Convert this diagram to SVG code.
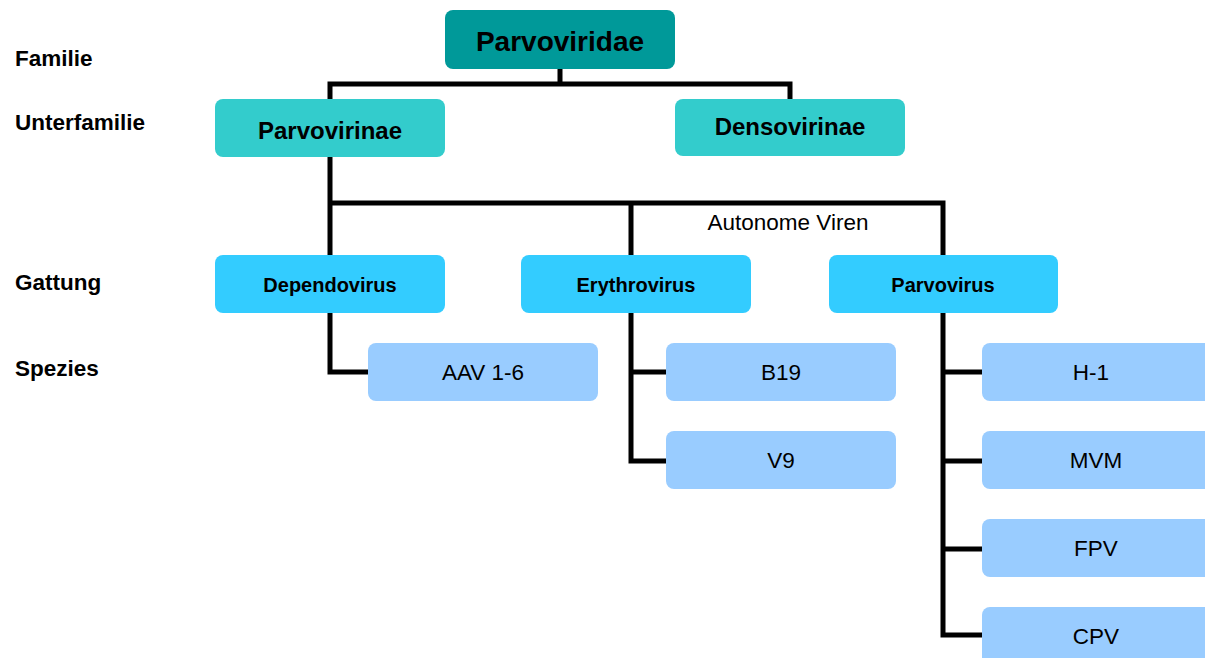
<svg xmlns="http://www.w3.org/2000/svg" width="1205" height="658" viewBox="0 0 1205 658">
<style>
text{font-family:"Liberation Sans",Arial,sans-serif;fill:#000}
.lbl{font-size:22.5px;font-weight:bold}
.fam{fill:#009999}
.sub{fill:#33CCCC}
.gen{fill:#33CCFF}
.spe{fill:#99CCFF}
.t1{font-size:28px;font-weight:bold;text-anchor:middle}
.t2{font-size:24px;font-weight:bold;text-anchor:middle}
.t3{font-size:20px;font-weight:bold;text-anchor:middle}
.t4{font-size:22.5px;text-anchor:middle}
.c{fill:none;stroke:#000;stroke-width:5;stroke-linejoin:miter;stroke-linecap:butt}
</style>
<rect width="1205" height="658" fill="#fff"/>
<g id="levels">
<text class="lbl" x="15" y="66">Familie</text>
<text class="lbl" x="15" y="130">Unterfamilie</text>
<text class="lbl" x="15" y="290">Gattung</text>
<text class="lbl" x="15" y="376">Spezies</text>
</g>
<g id="connectors">
<path class="c" d="M560 69V84M330 99V84H790V99"/>
<path class="c" d="M330 157V255M330 203H943V255M631 203V255"/>
<path class="c" d="M330 313V372H368"/>
<path class="c" d="M631 313V461H666M631 372H666"/>
<path class="c" d="M943 313V635H982M943 372H982M943 461H982M943 549H982"/>
</g>
<text x="788" y="230" style="font-size:22.5px;text-anchor:middle">Autonome Viren</text>
<g id="parvoviridae"><rect class="fam" x="445" y="10" width="230" height="59" rx="8"/><text class="t1" x="560" y="51">Parvoviridae</text></g>
<g id="parvovirinae"><rect class="sub" x="215" y="99" width="230" height="58" rx="8"/><text class="t2" x="330" y="139">Parvovirinae</text></g>
<g id="densovirinae"><rect class="sub" x="675" y="99" width="230" height="57" rx="8"/><text class="t2" x="790" y="135">Densovirinae</text></g>
<g id="dependovirus"><rect class="gen" x="215" y="255" width="230" height="58" rx="8"/><text class="t3" x="330" y="292">Dependovirus</text></g>
<g id="erythrovirus"><rect class="gen" x="521" y="255" width="230" height="58" rx="8"/><text class="t3" x="636" y="292">Erythrovirus</text></g>
<g id="parvovirus"><rect class="gen" x="829" y="255" width="229" height="58" rx="8"/><text class="t3" x="943" y="292">Parvovirus</text></g>
<g id="aav"><rect class="spe" x="368" y="343" width="230" height="58" rx="8"/><text class="t4" x="483" y="380">AAV 1-6</text></g>
<g id="b19"><rect class="spe" x="666" y="343" width="230" height="58" rx="8"/><text class="t4" x="781" y="380">B19</text></g>
<g id="v9"><rect class="spe" x="666" y="431" width="230" height="58" rx="8"/><text class="t4" x="781" y="468">V9</text></g>
<g id="h1"><rect class="spe" x="982" y="343" width="230" height="58" rx="8"/><text class="t4" x="1091" y="380">H-1</text></g>
<g id="mvm"><rect class="spe" x="982" y="431" width="230" height="58" rx="8"/><text class="t4" x="1096" y="468">MVM</text></g>
<g id="fpv"><rect class="spe" x="982" y="519" width="230" height="58" rx="8"/><text class="t4" x="1096" y="556">FPV</text></g>
<g id="cpv"><rect class="spe" x="982" y="607" width="230" height="58" rx="8"/><text class="t4" x="1096" y="644">CPV</text></g>
</svg>
